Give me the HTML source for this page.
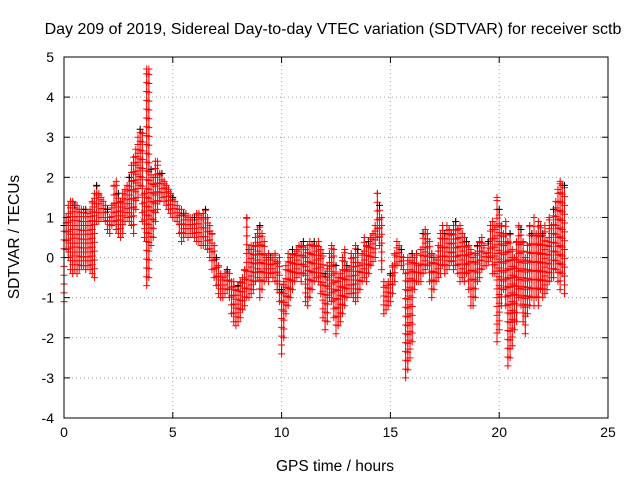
<!DOCTYPE html>
<html><head><meta charset="utf-8"><style>
body{margin:0;background:#fff}
svg{display:block;font-family:"Liberation Sans",sans-serif}
</style></head><body>
<svg id="chart" width="640" height="480">
<text x="333" y="34" font-size="16" text-anchor="middle">Day 209 of 2019, Sidereal Day-to-day VTEC variation (SDTVAR) for receiver sctb</text>
<text x="335" y="471" font-size="15.5" text-anchor="middle">GPS time / hours</text>
<text transform="translate(19,237) rotate(-90)" font-size="15.5" text-anchor="middle">SDTVAR / TECUs</text>
<g id="grid"></g>
<g id="marks"></g>
<rect x="64" y="57" width="544" height="361" fill="none" stroke="#000" stroke-width="1"/>
<g id="ticks"></g>
</svg>
<script>
const xTicks=[0,5,10,15,20,25];
const yTicks=[-4,-3,-2,-1,0,1,2,3,4,5];
const times=[0.0,0.1,0.2,0.3,0.4,0.5,0.6,0.7,0.8,0.9,1.0,1.1,1.2,1.3,1.4,1.5,1.6,1.7,1.8,1.9,2.0,2.1,2.2,2.3,2.4,2.5,2.6,2.7,2.8,2.9,3.0,3.1,3.2,3.3,3.4,3.5,3.6,3.7,3.8,3.9,4.0,4.1,4.2,4.3,4.4,4.5,4.6,4.7,4.8,4.9,5.0,5.1,5.2,5.3,5.4,5.5,5.6,5.7,5.8,5.9,6.0,6.1,6.2,6.3,6.4,6.5,6.6,6.7,6.8,6.9,7.0,7.1,7.2,7.3,7.4,7.5,7.6,7.7,7.8,7.9,8.0,8.1,8.2,8.3,8.4,8.5,8.6,8.7,8.8,8.9,9.0,9.1,9.2,9.3,9.4,9.5,9.6,9.7,9.8,9.9,10.0,10.1,10.2,10.3,10.4,10.5,10.6,10.7,10.8,10.9,11.0,11.1,11.2,11.3,11.4,11.5,11.6,11.7,11.8,11.9,12.0,12.1,12.2,12.3,12.4,12.5,12.6,12.7,12.8,12.9,13.0,13.1,13.2,13.3,13.4,13.5,13.6,13.7,13.8,13.9,14.0,14.1,14.2,14.3,14.4,14.5,14.6,14.7,14.8,14.9,15.0,15.1,15.2,15.3,15.4,15.5,15.6,15.7,15.8,15.9,16.0,16.1,16.2,16.3,16.4,16.5,16.6,16.7,16.8,16.9,17.0,17.1,17.2,17.3,17.4,17.5,17.6,17.7,17.8,17.9,18.0,18.1,18.2,18.3,18.4,18.5,18.6,18.7,18.8,18.9,19.0,19.1,19.2,19.3,19.4,19.5,19.6,19.7,19.8,19.9,20.0,20.1,20.2,20.3,20.4,20.5,20.6,20.7,20.8,20.9,21.0,21.1,21.2,21.3,21.4,21.5,21.6,21.7,21.8,21.9,22.0,22.1,22.2,22.3,22.4,22.5,22.6,22.7,22.8,22.9,23.0];
const lowVals=[-1.1,0.2,0.0,-0.3,-0.4,-0.3,-0.4,-0.3,-0.2,-0.2,-0.3,-0.2,-0.3,-0.4,-0.5,0.9,0.9,1.0,1.0,0.9,0.7,0.6,0.8,0.9,0.7,0.6,0.5,0.6,0.9,1.0,0.9,0.8,0.6,1.2,1.5,1.8,0.9,0.5,-0.7,-0.5,0.3,0.5,0.9,1.2,1.4,1.5,1.4,1.3,1.2,1.1,1.0,1.0,0.9,0.6,0.4,0.5,0.6,0.5,0.6,0.6,0.5,0.4,0.4,0.3,0.3,0.3,0.2,0.0,-0.3,-0.5,-0.7,-0.9,-1.0,-1.0,-0.9,-0.8,-1.0,-1.4,-1.6,-1.7,-1.6,-1.5,-1.3,-1.2,-1.0,-1.0,-0.9,-0.8,-0.6,-0.5,-1.0,-0.8,-0.6,-0.5,-0.6,-0.4,-0.5,-0.6,-0.8,-1.1,-2.4,-2.0,-1.4,-1.2,-1.0,-0.8,-0.6,-0.5,-0.4,-0.6,-0.4,-1.1,-1.2,-1.0,-0.8,-0.6,-0.5,-0.6,-0.9,-1.5,-1.8,-1.6,-1.0,-1.1,-1.5,-1.9,-1.7,-1.6,-1.4,-1.2,-1.0,-0.9,-0.9,-1.0,-1.1,-1.0,-0.8,-0.6,-0.5,-0.6,-0.4,-0.2,-0.1,0.0,0.5,0.3,-0.3,-1.4,-1.3,-1.2,-1.1,-0.9,-0.6,-0.2,-0.1,-0.2,-0.3,-3.0,-2.8,-2.5,-2.1,-0.8,-0.6,-0.6,-0.6,-0.4,-0.3,-0.2,-0.6,-1.0,-0.8,-0.6,-0.5,-0.4,-0.2,-0.4,-0.3,-0.2,-0.1,-0.3,-0.2,-0.4,-0.6,-0.5,-0.6,-0.4,-0.8,-1.2,-1.2,-1.0,-0.6,-0.5,-0.3,-0.2,-0.2,-0.1,0.0,-0.4,-0.4,-2.1,-1.8,-1.2,-0.8,-1.2,-2.7,-2.5,-2.2,-1.8,-1.6,-1.0,-1.2,-1.6,-1.9,-1.4,-1.2,-1.0,-1.2,-1.0,-1.2,-0.8,-1.0,-0.9,-0.8,-0.6,-0.5,-0.5,-0.3,-0.6,-0.8,-0.4,-0.9];
const highVals=[0.8,1.0,1.3,1.4,1.4,1.3,1.3,1.2,1.2,1.2,1.2,1.1,1.2,1.4,1.6,1.8,1.6,1.5,1.4,1.3,1.2,1.0,1.3,1.8,1.9,1.6,1.4,1.6,1.7,1.8,2.0,2.3,2.5,2.7,3.0,3.2,3.1,1.6,4.7,4.7,2.2,2.0,2.4,2.4,2.1,2.1,1.9,1.8,1.7,1.6,1.5,1.4,1.3,1.2,1.2,1.1,1.1,1.0,1.0,1.0,1.0,1.1,1.1,1.0,1.1,1.2,1.0,0.8,0.6,0.3,0.0,-0.2,-0.4,-0.5,-0.4,-0.3,-0.4,-0.6,-0.6,-0.8,-0.7,-0.6,-0.5,-0.3,1.0,0.2,0.3,0.3,0.5,0.7,0.8,0.6,0.4,0.0,0.1,0.0,0.0,0.1,-0.1,0.0,-0.8,-0.6,-0.2,0.1,0.0,0.2,0.1,0.2,0.3,0.3,0.4,0.2,0.3,0.4,0.3,0.4,0.3,0.4,0.2,0.1,-0.4,-0.2,0.1,0.3,0.2,-0.2,-0.5,-0.4,0.0,0.2,-0.2,-0.3,0.1,0.0,0.3,0.2,-0.2,0.1,0.5,0.3,0.4,0.5,0.6,0.8,1.6,1.3,1.0,-0.6,-0.7,-0.6,-0.4,-0.2,0.1,0.4,0.3,0.2,0.0,-0.4,0.0,0.0,0.1,0.0,0.1,-0.2,0.2,0.6,0.7,0.6,0.4,0.1,0.0,0.0,0.3,0.6,0.8,0.6,0.8,0.7,0.6,0.8,0.9,0.7,0.8,0.6,0.5,0.4,0.3,0.2,0.0,0.1,0.3,0.4,0.5,0.3,0.1,0.4,0.8,0.9,0.8,1.5,1.2,0.8,0.6,0.9,0.4,0.6,0.2,0.0,0.4,0.8,0.7,0.4,0.0,0.3,0.8,0.6,1.0,0.6,0.9,0.8,0.6,0.8,0.4,1.0,0.8,1.2,1.4,1.7,1.9,1.8,1.8];
const NS='http://www.w3.org/2000/svg';
const X0=64,X1=608,Y0=418,Y1=57;
function xs(v){return X0+(v-0)/(25-0)*(X1-X0);}
function ys(v){return Y0-(v-(-4))/(5-(-4))*(Y0-Y1);}
function el(tag,attrs,parent){const e=document.createElementNS(NS,tag);for(const k in attrs)e.setAttribute(k,attrs[k]);parent.appendChild(e);return e;}
const grid=document.getElementById('grid'),ticks=document.getElementById('ticks'),marks=document.getElementById('marks');
xTicks.forEach(t=>{const x=xs(t);
 if(t>0&&t<25){const g=el('line',{x1:x,x2:x,y1:Y1,y2:Y0,stroke:'#a0a0a0','stroke-dasharray':'1,3'},grid);
 
 }
 const a=el('line',{x1:x,x2:x,y1:Y0,y2:Y0-6,stroke:'#000'},ticks);
 
 
 const b=el('line',{x1:x,x2:x,y1:Y1,y2:Y1+6,stroke:'#000'},ticks);
 
 
 const tx=el('text',{x:x,y:Y0+19,'font-size':14,'text-anchor':'middle'},ticks);tx.textContent=t;
 
 
});
yTicks.forEach(t=>{const y=ys(t);
 if(t>-4&&t<5){const g=el('line',{x1:X0,x2:X1,y1:y,y2:y,stroke:'#a0a0a0','stroke-dasharray':'1,3'},grid);
 
 }
 const a=el('line',{x1:X0,x2:X0+6,y1:y,y2:y,stroke:'#000'},ticks);
 
 
 const b=el('line',{x1:X1,x2:X1-6,y1:y,y2:y,stroke:'#000'},ticks);
 
 
 const tx=el('text',{x:X0-10,y:y+5,'font-size':14,'text-anchor':'end'},ticks);tx.textContent=t;
 
 
});
function plus(x,y,c){const p=el('path',{d:`M${x-3.5},${y}h7M${x},${y-3.5}v7`,stroke:c,'stroke-width':1},marks);
 
 }
times.forEach((t,i)=>{const x=xs(t),lo=lowVals[i],hi=highVals[i];
 const ln=el('line',{x1:x,x2:x,y1:ys(lo),y2:ys(hi),stroke:'#ff0000','stroke-width':1},marks);
 
 
 for(let v=lo;v<=hi+1e-9;v+=0.22)plus(x,ys(v),'#ff0000');
 plus(x,ys(hi),i%5===0?'#000':'#ff0000');
});
</script>
</body></html>
